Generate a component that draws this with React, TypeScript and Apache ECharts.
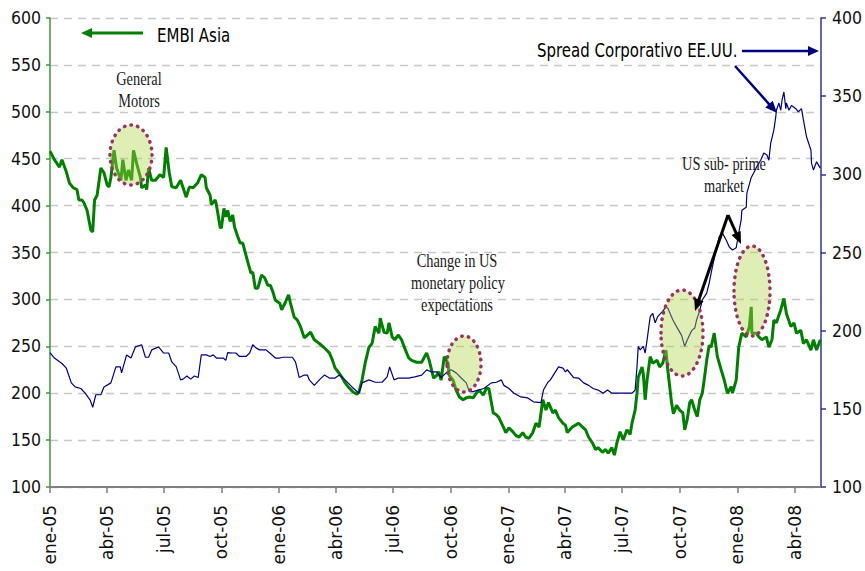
import React, { useEffect, useRef } from 'react';
import * as echarts from 'echarts';

// x values are days counted from 1 January 2005
const quarterDays = [0, 90, 181, 273, 365, 455, 546, 638, 730, 820, 911, 1003, 1095, 1186];
const quarterLabels = ['ene-05', 'abr-05', 'jul-05', 'oct-05', 'ene-06', 'abr-06', 'jul-06', 'oct-06', 'ene-07', 'abr-07', 'jul-07', 'oct-07', 'ene-08', 'abr-08'];

const embiDays = [0, 7, 15, 19, 26, 31, 37, 43, 46, 51, 54, 59, 65, 68, 71, 75, 81, 86, 91, 94, 97, 102, 106, 113, 116, 121, 125, 130, 133, 138, 144, 146, 152, 154, 157, 162, 168, 175, 181, 185, 190, 194, 201, 208, 212, 217, 222, 228, 235, 241, 247, 249, 255, 257, 263, 265, 271, 273, 277, 280, 283, 287, 291, 294, 299, 303, 307, 311, 315, 320, 323, 327, 331, 337, 342, 347, 351, 355, 359, 366, 369, 375, 380, 383, 389, 394, 399, 405, 410, 415, 421, 429, 436, 445, 450, 454, 461, 465, 470, 476, 483, 489, 492, 497, 502, 508, 513, 518, 524, 526, 532, 537, 540, 545, 549, 555, 560, 565, 571, 576, 584, 592, 596, 600, 604, 611, 616, 619, 623, 628, 634, 636, 642, 647, 652, 658, 663, 668, 674, 679, 684, 690, 695, 699, 703, 706, 711, 715, 722, 726, 731, 737, 742, 747, 753, 758, 763, 769, 774, 779, 785, 790, 794, 801, 805, 810, 817, 821, 824, 832, 837, 842, 848, 853, 858, 864, 869, 873, 880, 885, 889, 895, 899, 903, 908, 913, 919, 924, 927, 932, 935, 937, 943, 945, 948, 951, 956, 960, 967, 971, 976, 981, 984, 990, 993, 998, 1003, 1008, 1011, 1015, 1019, 1022, 1027, 1031, 1035, 1039, 1042, 1046, 1050, 1053, 1058, 1063, 1069, 1074, 1079, 1085, 1087, 1093, 1097, 1102, 1109, 1114, 1117, 1118, 1125, 1129, 1134, 1141, 1145, 1150, 1153, 1157, 1164, 1169, 1173, 1180, 1185, 1189, 1196, 1200, 1205, 1212, 1216, 1221, 1227];
const embiValues = [458, 449, 441, 449, 436, 424, 419, 417, 406, 406, 403, 395, 374, 372, 406, 411, 440, 435, 422, 420, 430, 459, 440, 427, 449, 427, 438, 427, 459, 445, 430, 419, 422, 417, 440, 427, 427, 433, 430, 462, 435, 420, 419, 427, 419, 409, 420, 419, 424, 433, 430, 419, 411, 401, 406, 401, 377, 376, 397, 388, 395, 383, 390, 377, 367, 360, 360, 350, 340, 328, 329, 312, 312, 326, 323, 315, 315, 308, 299, 296, 289, 297, 305, 296, 281, 278, 271, 259, 262, 265, 257, 253, 249, 243, 235, 227, 221, 217, 211, 206, 201, 199, 201, 214, 232, 249, 253, 271, 264, 280, 265, 264, 275, 260, 257, 262, 257, 248, 238, 235, 233, 233, 238, 243, 235, 216, 219, 223, 214, 239, 232, 219, 214, 203, 196, 193, 195, 196, 195, 200, 203, 198, 205, 205, 190, 179, 177, 174, 164, 158, 163, 159, 155, 153, 158, 153, 152, 158, 168, 164, 193, 182, 190, 179, 182, 174, 168, 166, 158, 164, 166, 168, 164, 161, 153, 147, 140, 142, 137, 140, 136, 142, 134, 147, 159, 150, 161, 156, 168, 182, 200, 217, 228, 221, 193, 214, 239, 232, 235, 228, 232, 246, 225, 190, 178, 187, 182, 179, 161, 172, 190, 193, 182, 175, 193, 200, 214, 235, 251, 249, 264, 239, 225, 214, 200, 207, 200, 214, 249, 264, 260, 271, 292, 264, 264, 260, 257, 260, 249, 257, 278, 275, 289, 301, 285, 271, 275, 264, 267, 253, 257, 246, 257, 246, 257];

const spreadDays = [0, 7, 19, 26, 34, 40, 49, 56, 64, 68, 73, 81, 86, 97, 105, 112, 114, 122, 129, 136, 146, 152, 157, 162, 173, 181, 189, 194, 201, 208, 212, 218, 224, 230, 236, 241, 249, 255, 260, 265, 276, 280, 283, 291, 296, 302, 312, 318, 323, 328, 334, 344, 350, 359, 366, 371, 386, 391, 397, 405, 410, 413, 421, 429, 437, 445, 454, 461, 470, 481, 492, 497, 508, 518, 529, 537, 541, 548, 555, 571, 581, 592, 600, 608, 616, 623, 631, 639, 647, 655, 663, 668, 674, 682, 691, 703, 711, 719, 723, 731, 739, 750, 761, 770, 782, 786, 793, 797, 805, 810, 817, 821, 824, 834, 842, 850, 858, 865, 873, 881, 888, 895, 905, 916, 927, 932, 935, 937, 940, 945, 948, 951, 956, 960, 964, 968, 975, 981, 984, 992, 998, 1006, 1011, 1015, 1022, 1027, 1030, 1035, 1039, 1046, 1050, 1055, 1061, 1066, 1071, 1077, 1082, 1087, 1093, 1097, 1101, 1102, 1109, 1110, 1117, 1121, 1126, 1132, 1137, 1142, 1145, 1148, 1153, 1156, 1157, 1161, 1164, 1166, 1169, 1172, 1173, 1177, 1181, 1188, 1192, 1197, 1200, 1205, 1212, 1213, 1216, 1221, 1227];
const spreadValues = [186, 182.5, 179, 176, 166.6, 164, 163, 160, 155.6, 151, 159, 159, 164, 166.6, 176.8, 176.8, 173, 184.5, 182.5, 189.6, 191, 183, 183, 187.7, 189.6, 185.7, 185.7, 180, 177, 168.5, 169, 171, 169, 171, 170, 184.5, 184.5, 183.5, 184.5, 182.5, 182.5, 181, 186, 185.7, 185.7, 183.5, 183.5, 185.7, 191, 189, 187.7, 187.7, 185.7, 182.5, 182.5, 183, 183, 180, 170, 171.6, 171.6, 168.5, 165, 168.5, 171.6, 169.7, 169.7, 171.6, 168.5, 164, 160, 166.6, 168.5, 167, 167, 170.4, 176.8, 168.5, 169.7, 169.7, 170.4, 171.6, 174.9, 173.6, 173.6, 170, 173, 175, 173, 169.7, 166.6, 161, 161, 162, 163, 166.6, 167, 168.5, 165, 163, 160, 157.6, 157, 154.5, 154, 162, 167, 168.5, 173.6, 176.8, 176, 173.6, 175, 170, 169.7, 166.6, 165, 163, 162, 160, 162, 160, 160, 160, 160, 162, 177, 190, 187.7, 190, 185.7, 194, 209, 211, 205, 209, 212, 215, 214.5, 207, 202.6, 197, 190, 194, 200, 201.7, 207, 213, 219.6, 224, 230.5, 240.7, 251.6, 260, 262.5, 258, 253.5, 251.6, 253, 262.5, 271, 277, 279, 288, 298, 301, 305, 309, 313.6, 312.4, 309, 320, 328.4, 336.7, 341, 345.6, 341, 347.5, 352.7, 342, 345.6, 341, 344, 342, 340, 342, 335, 324, 315.6, 307, 302.8, 308, 304];

const AXIS_FONT = "'DejaVu Sans Condensed', 'DejaVu Sans', sans-serif";
const X_FONT = "'DejaVu Sans', sans-serif";
const SERIF = "'Liberation Serif', 'DejaVu Serif', serif";
const SANS = "'DejaVu Sans', sans-serif";

function arrow(x1: number, y1: number, x2: number, y2: number, color: string, width: number, headLen: number, headHalf: number) {
  const dx = x2 - x1;
  const dy = y2 - y1;
  const len = Math.sqrt(dx * dx + dy * dy);
  const ux = dx / len;
  const uy = dy / len;
  const bx = x2 - ux * headLen;
  const by = y2 - uy * headLen;
  const px = -uy;
  const py = ux;
  return [
    { type: 'line', z: 100, shape: { x1, y1, x2: bx + ux * 1, y2: by + uy * 1 }, style: { stroke: color, lineWidth: width } },
    {
      type: 'polygon', z: 100,
      shape: { points: [[x2, y2], [bx + px * headHalf, by + py * headHalf], [bx - px * headHalf, by - py * headHalf]] },
      style: { fill: color },
    },
  ];
}

function ellipse(cx: number, cy: number, rx: number, ry: number) {
  return {
    type: 'ellipse', z: 100,
    shape: { cx, cy, rx, ry },
    style: { fill: 'rgba(172,212,67,0.4)', stroke: '#993366', lineWidth: 3.5, lineDash: [0.5, 6.2], lineCap: 'round' },
  };
}

function serifText(text: string, x: number, y: number) {
  return {
    type: 'text', z: 101, x, y, scaleX: 0.8,
    style: { text, fontFamily: SERIF, fontSize: 18, fill: '#1a1a1a', align: 'center', verticalAlign: 'middle' },
  };
}

export default function App() {
  const ref = useRef<HTMLDivElement>(null);
  useEffect(() => {
    if (!ref.current) return;
    const chart = echarts.init(ref.current, null, { renderer: 'svg' });
    const embi = embiDays.map((d, i) => [d, embiValues[i]]);
    const spread = spreadDays.map((d, i) => [d, spreadValues[i]]);
    chart.setOption({
      animation: false,
      backgroundColor: '#ffffff',
      grid: { left: 50, right: 38, top: 18, bottom: 84, containLabel: false },
      xAxis: {
        type: 'value',
        min: 0,
        max: 1228,
        axisLine: { show: true, onZero: false, lineStyle: { color: '#7f7f7f', width: 2 } },
        axisTick: { show: true, length: 6, customValues: quarterDays, lineStyle: { color: '#7f7f7f', width: 1.5 } },
        axisLabel: {
          customValues: quarterDays,
          rotate: 90,
          margin: 18,
          padding: [14, 0, 0, 0],
          fontFamily: X_FONT,
          fontSize: 17,
          color: '#111',
          formatter: (v: number) => {
            const i = quarterDays.indexOf(Math.round(v));
            return i >= 0 ? quarterLabels[i] : '';
          },
        },
        splitLine: { show: false },
      },
      yAxis: [
        {
          type: 'value', min: 100, max: 600, interval: 50, position: 'left',
          axisLine: { show: true, lineStyle: { color: '#3a9a3a', width: 1.5 } },
          axisTick: { show: true, length: 4, lineStyle: { color: '#3a9a3a', width: 1.5 } },
          axisLabel: { margin: 9, fontFamily: AXIS_FONT, fontSize: 17.5, color: '#111' },
          splitLine: { show: true, lineStyle: { color: '#c8c8c8', type: [8, 6], width: 1.3 } },
        },
        {
          type: 'value', min: 100, max: 400, interval: 50, position: 'right',
          axisLine: { show: true, lineStyle: { color: '#33339a', width: 1.5 } },
          axisTick: { show: true, length: 5, lineStyle: { color: '#33339a', width: 1.5 } },
          axisLabel: { margin: 11, fontFamily: AXIS_FONT, fontSize: 17.5, color: '#111' },
          splitLine: { show: false },
        },
      ],
      series: [
        {
          name: 'EMBI Asia', type: 'line', yAxisIndex: 0, data: embi, showSymbol: false, z: 3,
          lineStyle: { color: '#008000', width: 3 },
        },
        {
          name: 'Spread Corporativo EE.UU.', type: 'line', yAxisIndex: 1, data: spread, showSymbol: false, z: 4,
          lineStyle: { color: '#000080', width: 1.2 },
        },
      ],
      graphic: [
        ellipse(131, 155, 21, 30),
        ellipse(464, 364, 17, 28),
        ellipse(682, 333, 21, 43),
        ellipse(752, 291, 18, 45),
        ...arrow(143, 33, 81, 33, '#008000', 3, 11, 5),
        ...arrow(742, 51, 819, 51, '#000080', 2.5, 11, 5),
        ...arrow(735, 66, 777, 113, '#000080', 2.5, 12, 5),
        ...arrow(728, 215, 695, 311, '#000000', 3, 12, 5),
        ...arrow(728, 215, 741, 244, '#000000', 3, 12, 5),
        {
          type: 'text', z: 101, x: 157, y: 35, scaleX: 0.75,
          style: { text: 'EMBI Asia', fontFamily: SANS, fontSize: 20, fill: '#000', align: 'left', verticalAlign: 'middle' },
        },
        {
          type: 'text', z: 101, x: 537, y: 50, scaleX: 0.75,
          style: { text: 'Spread Corporativo EE.UU.', fontFamily: SANS, fontSize: 20, fill: '#000', align: 'left', verticalAlign: 'middle' },
        },
        serifText('General', 139, 79),
        serifText('Motors', 139, 101),
        serifText('Change in US', 457, 261),
        serifText('monetary policy', 458, 283),
        serifText('expectations', 457, 305),
        serifText('US sub- prime', 724, 164),
        serifText('market', 724, 186),
      ],
    });
    return () => chart.dispose();
  }, []);
  return (
    <div
      ref={ref}
      style={{ position: 'fixed', left: 0, top: 0, width: 865, height: 571, background: '#ffffff' }}
    />
  );
}
